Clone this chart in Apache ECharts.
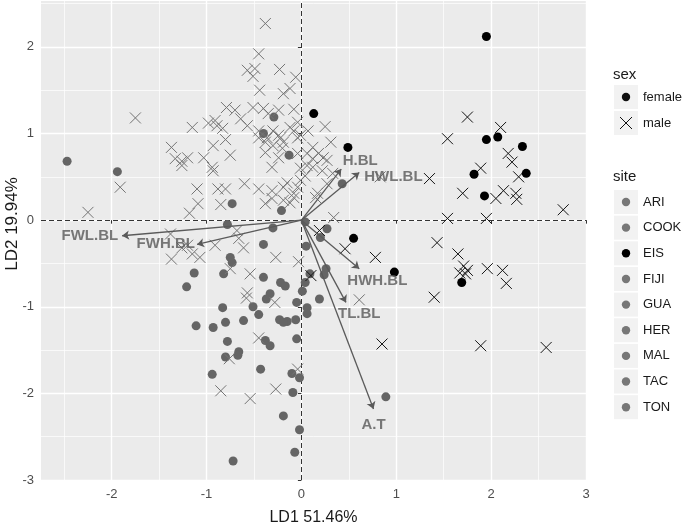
<!DOCTYPE html>
<html>
<head>
<meta charset="utf-8">
<script src="https://cdn.jsdelivr.net/npm/echarts@6/dist/echarts.min.js"></script>
<style>
html,body{margin:0;padding:0;background:#fff;}
#chart{width:685px;height:524px;}
</style>
</head>
<body>
<div id="chart"></div>
<script>
// ---- data (LD1, LD2) ----
const greyFemale = [[-2.47,0.68],[-1.94,0.56],[-0.73,0.19],[-0.78,-0.05],[-0.30,-0.09],[-0.40,-0.28],[-0.75,-0.43],[-0.40,1.00],[-0.29,1.19],[-0.13,0.75],[-0.21,0.11],[0.43,0.42],[0.27,-0.10],[0.20,-0.20],[0.05,-0.30],[0.04,-0.02],[-0.40,-0.66],[-0.22,-0.72],[-0.17,-0.76],[-0.33,-0.85],[-0.37,-0.91],[0.01,-0.82],[0.04,-0.72],[0.09,-0.62],[0.26,-0.56],[0.24,-0.63],[-0.05,-0.95],[0.19,-0.91],[0.06,-1.01],[0.06,-1.08],[-0.51,-1.00],[-0.45,-1.09],[-0.23,-1.15],[-0.15,-1.17],[-0.06,-1.15],[-0.19,-1.18],[-0.61,-1.16],[-0.73,-0.49],[-1.13,-0.61],[-0.82,-0.62],[-1.21,-0.77],[-0.83,-1.01],[-1.11,-1.22],[-0.93,-1.24],[-0.80,-1.18],[-0.78,-1.40],[-0.38,-1.39],[-0.33,-1.45],[-0.05,-1.37],[-0.66,-1.52],[-0.67,-1.56],[-0.80,-1.58],[-0.43,-1.72],[-0.94,-1.78],[-0.10,-1.77],[-0.02,-1.82],[-0.09,-1.99],[-0.19,-2.26],[-0.02,-2.42],[-0.07,-2.68],[-0.72,-2.78],[0.89,-2.04]];
const greyMale = [[-0.38,2.27],[-0.45,1.92],[-0.57,1.73],[-0.49,1.75],[-0.51,1.66],[-0.23,1.74],[-0.06,1.65],[-0.44,1.50],[-0.19,1.46],[-0.12,1.52],[-1.75,1.18],[-0.79,1.30],[-0.70,1.27],[-0.64,1.17],[-0.51,1.30],[-0.40,1.29],[-0.35,1.23],[-0.24,1.27],[-0.08,1.28],[-1.15,1.07],[-0.98,1.12],[-0.91,1.15],[-0.89,1.09],[-0.83,1.06],[-0.57,1.09],[-0.45,1.03],[-0.30,1.03],[-0.24,0.98],[-0.36,0.95],[-0.22,0.95],[-0.12,1.07],[-0.04,1.13],[-0.08,1.03],[-0.01,0.98],[0.07,1.03],[0.25,1.08],[-0.04,0.95],[-1.37,0.84],[-1.33,0.71],[-1.26,0.68],[-1.20,0.72],[-1.26,0.63],[-1.03,0.72],[-0.93,0.86],[-0.80,0.93],[-0.75,0.75],[-0.94,0.61],[-0.45,0.95],[-0.38,0.90],[-0.30,0.86],[-0.19,0.90],[-0.38,0.78],[-0.24,0.72],[-0.20,0.83],[-0.31,0.61],[-0.04,0.77],[0.06,0.63],[0.12,0.84],[0.18,0.77],[0.23,0.72],[0.12,0.71],[0.31,0.90],[0.06,0.77],[0.27,0.69],[0.12,0.61],[0.22,0.57],[0.33,0.54],[0.04,0.51],[0.27,0.42],[-0.15,0.43],[-0.04,0.38],[0.17,0.31],[-0.19,0.23],[-0.08,0.26],[-0.01,0.60],[-0.93,0.57],[-0.60,0.42],[-0.45,0.36],[-1.10,0.36],[-0.88,0.36],[-0.80,0.36],[-1.91,0.38],[-2.25,0.09],[-1.18,0.08],[-1.09,0.19],[-0.85,0.18],[-0.38,0.19],[-0.31,0.25],[-0.19,0.38],[-0.08,0.31],[-0.12,0.20],[-0.31,0.34],[-0.01,0.46],[0.15,0.26],[0.34,0.03],[0.83,0.50],[-1.38,-0.16],[-1.20,-0.29],[-0.91,-0.29],[-0.68,-0.12],[-0.66,-0.21],[-0.61,-0.32],[-0.27,-0.43],[-1.37,-0.45],[-1.15,-0.39],[-1.07,-0.43],[-1.26,-0.32],[-0.75,-0.56],[-0.54,-0.62],[-0.03,-0.48],[-0.57,-0.84],[-0.58,-0.90],[-0.28,-0.95],[-0.45,-1.36],[-0.76,-1.60],[-0.85,-1.97],[-0.54,-2.06],[-0.27,-1.95],[-0.04,-1.72],[0.61,-0.92]];
const eisFemale = [[1.95,2.12],[0.13,1.23],[0.49,0.84],[1.95,0.93],[2.07,0.96],[2.33,0.85],[1.82,0.53],[2.37,0.54],[1.93,0.28],[0.55,-0.21],[0.98,-0.60],[1.69,-0.72]];
const eisMale = [[1.75,1.19],[1.54,0.94],[2.10,1.07],[2.18,0.77],[2.22,0.67],[1.89,0.60],[2.29,0.50],[1.35,0.48],[1.70,0.31],[2.13,0.34],[2.05,0.25],[2.26,0.31],[2.27,0.24],[2.76,0.12],[1.54,0.02],[1.95,0.02],[1.43,-0.26],[1.65,-0.39],[0.78,-0.43],[0.46,-0.33],[0.19,-0.12],[0.10,-0.64],[1.71,-0.53],[1.75,-0.58],[1.73,-0.62],[1.67,-0.61],[1.96,-0.56],[2.12,-0.58],[2.16,-0.73],[1.40,-0.89],[0.85,-1.43],[1.89,-1.45],[2.58,-1.47]];

const loadingNames = ['FWL.BL','FWH.BL','H.BL','HWL.BL','HWH.BL','TL.BL','A.T'];
const loadingX = [-1.89,-1.10,0.42,0.61,0.61,0.47,0.76];
const loadingY = [-0.18,-0.28,0.59,0.55,-0.56,-0.95,-2.18];
const labelX = [-2.23,-1.43,0.62,0.97,0.80,0.61,0.76];
const labelY = [-0.18,-0.27,0.68,0.50,-0.70,-1.08,-2.36];

const xTicks = [-2,-1,0,1,2,3];
const yTicks = [-3,-2,-1,0,1,2];
const xMinor = [-2.5,-1.5,-0.5,0.5,1.5,2.5];
const yMinor = [-2.5,-1.5,-0.5,0.5,1.5,2.5];
const xRange = [-2.745, 3.0];
const yRange = [-3.0, 2.53];

const xTitle = 'LD1 51.46%';
const yTitle = 'LD2 19.94%';
const sexTitle = 'sex';
const sexLevels = ['female','male'];
const siteTitle = 'site';
const siteLevels = ['ARI','COOK','EIS','FIJI','GUA','HER','MAL','TAC','TON'];
const highlightSite = 'EIS';

// ---- styling ----
const FONT = '"Liberation Sans", Arial, sans-serif';
const GREY_PT = '#656565';
const GREY_X = '#747474';
const crossPath = 'path://M0,0L10,10M10,0L0,10';

const chart = echarts.init(document.getElementById('chart'), null, {renderer:'canvas'});

const gridLines = [];
xTicks.forEach(v => gridLines.push({xAxis:v, lineStyle:{width:1.4}}));
yTicks.forEach(v => gridLines.push({yAxis:v, lineStyle:{width:1.4}}));
xMinor.forEach(v => gridLines.push({xAxis:v, lineStyle:{width:0.7}}));
yMinor.forEach(v => gridLines.push({yAxis:v, lineStyle:{width:0.7}}));

// legend + y title graphics
const graphics = [];
const legX = 614, keyW = 24;
function addKey(cy, kind, color) {
  graphics.push({type:'rect', shape:{x:legX, y:cy-12, width:keyW, height:24}, style:{fill:'#f2f2f2'}, silent:true});
  if (kind === 'circle') {
    graphics.push({type:'circle', shape:{cx:legX+keyW/2, cy:cy, r:4.2}, style:{fill:color}, silent:true});
  } else {
    graphics.push({type:'line', shape:{x1:legX+keyW/2-6, y1:cy-6, x2:legX+keyW/2+6, y2:cy+6}, style:{stroke:color, lineWidth:1}, silent:true});
    graphics.push({type:'line', shape:{x1:legX+keyW/2+6, y1:cy-6, x2:legX+keyW/2-6, y2:cy+6}, style:{stroke:color, lineWidth:1}, silent:true});
  }
}
function addText(x, y, txt, size) {
  graphics.push({type:'text', x:x, y:y, style:{text:txt, fill:'#1a1a1a', font: size+'px '+FONT, textVerticalAlign:'middle', verticalAlign:'middle', textAlign:'left'}, silent:true});
}
addText(613, 75, sexTitle, 15);
sexLevels.forEach((s,i) => {
  const cy = 97 + 26*i;
  addKey(cy, i===0 ? 'circle' : 'cross', '#111');
  addText(643, cy, s, 13);
});
addText(613, 177, siteTitle, 15);
siteLevels.forEach((s,i) => {
  const cy = 202 + 25.65*i;
  addKey(cy, 'circle', s===highlightSite ? '#000' : '#777');
  addText(643, cy, s, 13);
});
graphics.push({type:'text', x:12, y:224, rotation:Math.PI/2, silent:true,
  style:{text:yTitle, fill:'#1a1a1a', font:'17px '+FONT, align:'center', verticalAlign:'middle'}});

const option = {
  animation:false,
  backgroundColor:'#fff',
  textStyle:{fontFamily:FONT},
  grid:{left:41, right:99, top:1, bottom:44, show:true, backgroundColor:'#ebebeb', borderWidth:0,
        containLabel:false, outerBoundsMode:'none'},
  xAxis:{
    type:'value', min:xRange[0], max:xRange[1],
    axisLine:{show:false},
    splitLine:{show:false},
    axisTick:{show:true, length:3.5, lineStyle:{color:'#333', width:1}, customValues:xTicks},
    axisLabel:{color:'#4d4d4d', fontSize:13, margin:8, fontFamily:FONT, customValues:xTicks},
    name:xTitle, nameLocation:'middle', nameGap:30,
    nameTextStyle:{fontSize:16, color:'#1a1a1a', fontFamily:FONT}
  },
  yAxis:{
    type:'value', min:yRange[0], max:yRange[1],
    axisLine:{show:false},
    splitLine:{show:false},
    axisTick:{show:true, length:3.5, lineStyle:{color:'#333', width:1}, customValues:yTicks},
    axisLabel:{color:'#4d4d4d', fontSize:13, margin:7, fontFamily:FONT, customValues:yTicks}
  },
  graphic: graphics,
  series:[
    {
      type:'scatter', data:[], silent:true,
      markLine:{silent:true, symbol:'none', z:0, animation:false, label:{show:false},
        lineStyle:{color:'#ffffff', type:'solid'}, data:gridLines}
    },
    {
      type:'scatter', data:[], silent:true,
      markLine:{silent:true, symbol:'none', z:1, animation:false, label:{show:false},
        lineStyle:{color:'#333', type:[5,3], width:1}, data:[{xAxis:0},{yAxis:0}]}
    },
    {type:'scatter', name:'grey female', data:greyFemale, symbol:'circle', symbolSize:9, z:2,
      itemStyle:{color:GREY_PT, opacity:1}, silent:true},
    {type:'scatter', name:'grey male', data:greyMale, symbol:crossPath, symbolSize:11, z:2,
      itemStyle:{color:'transparent', borderColor:GREY_X, borderWidth:1, opacity:1}, silent:true},
    {type:'scatter', name:'EIS male', data:eisMale, symbol:crossPath, symbolSize:11, z:2,
      itemStyle:{color:'transparent', borderColor:'#151515', borderWidth:1, opacity:1}, silent:true},
    {type:'scatter', name:'EIS female', data:eisFemale, symbol:'circle', symbolSize:9, z:2,
      itemStyle:{color:'#000', opacity:1}, silent:true},
    {type:'lines', coordinateSystem:'cartesian2d', z:3, silent:true,
      symbol:['none','arrow'], symbolSize:[0,7],
      lineStyle:{color:'#5a5a5a', width:1.3, opacity:1},
      data: loadingNames.map((n,i)=>({coords:[[0,0],[loadingX[i],loadingY[i]]]}))},
    {type:'scatter', z:4, silent:true, symbolSize:0,
      data: loadingNames.map((n,i)=>({name:n, value:[labelX[i],labelY[i]]})),
      label:{show:true, position:'inside', formatter:'{b}', color:'#595959', fontSize:15, fontWeight:'bold', fontFamily:FONT}}
  ]
};
chart.setOption(option);
</script>
</body>
</html>
